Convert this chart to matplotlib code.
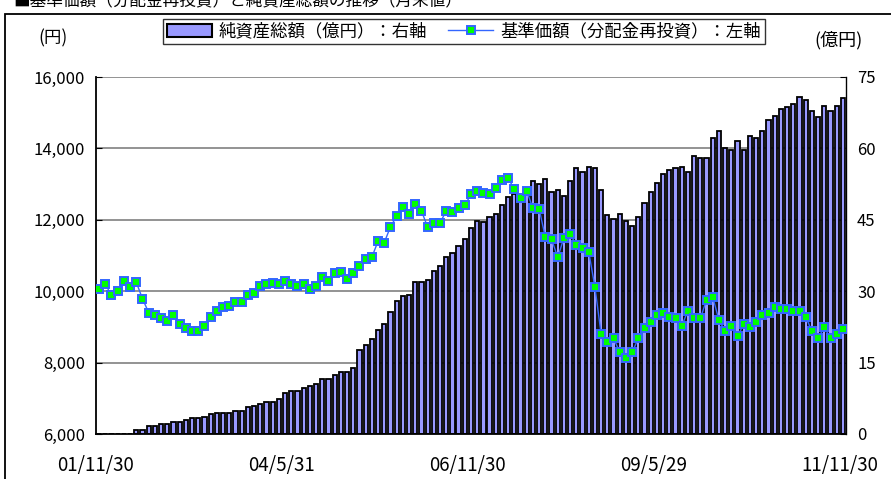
import matplotlib
matplotlib.use('Agg')

import numpy as np
import matplotlib.pyplot as plt
from matplotlib.patches import Rectangle
from matplotlib.lines import Line2D

plt.rcParams['font.family'] = ['Noto Sans CJK JP', 'DejaVu Sans']

# 月次データ 2001/11 〜 2011/11 (121 ヶ月)
kijun = [10050, 10200, 9880, 10000, 10290, 10130, 10250, 9790, 9400, 9330,
         9240, 9170, 9330, 9070, 8980, 8880, 8880, 9030, 9280, 9450,
         9550, 9580, 9690, 9690, 9880, 9940, 10140, 10200, 10240, 10190,
         10290, 10190, 10140, 10200, 10050, 10140, 10400, 10290, 10520, 10545,
         10340, 10500, 10700, 10900, 10950, 11400, 11360, 11800, 12100, 12360,
         12160, 12430, 12250, 11800, 11920, 11920, 12240, 12210, 12320, 12410,
         12710, 12800, 12760, 12710, 12900, 13110, 13160, 12860, 12620, 12800,
         12320, 12300, 11510, 11450, 10950, 11500, 11600, 11290, 11200, 11100,
         10110, 8790, 8580, 8680, 8290, 8120, 8290, 8680, 8980, 9150,
         9330, 9380, 9290, 9240, 9030, 9450, 9240, 9240, 9750, 9840,
         9190, 8880, 9030, 8740, 9080, 8990, 9130, 9330, 9380, 9550,
         9500, 9500, 9450, 9450, 9280, 8880, 8680, 8990, 8680, 8800,
         8930]

junshisan = [0, 0, 0, 0, 0, 0, 0.8, 0.8, 1.75, 1.75,
             2.0, 2.0, 2.5, 2.5, 2.9, 3.3, 3.3, 3.6, 4.1, 4.5,
             4.5, 4.5, 4.8, 4.8, 5.6, 5.9, 6.3, 6.7, 6.7, 7.4,
             8.7, 9.0, 9.0, 9.7, 10.0, 10.5, 11.5, 11.5, 12.4, 13.1,
             13.1, 13.9, 17.6, 18.8, 19.9, 21.8, 23.2, 25.6, 27.9, 29.0,
             29.3, 32.0, 32.0, 32.3, 34.3, 35.3, 37.2, 38.1, 39.5, 40.9,
             43.3, 44.8, 44.5, 45.6, 46.3, 48.2, 49.7, 50.5, 50.2, 51.7,
             53.1, 52.6, 53.6, 50.8, 51.2, 50.0, 53.1, 55.8, 55.0, 56.1,
             55.8, 51.2, 46.0, 45.2, 46.3, 44.8, 43.7, 45.6, 48.6, 50.9,
             52.8, 54.6, 55.4, 55.8, 56.1, 55.0, 58.4, 58.0, 58.0, 62.2,
             63.7, 60.0, 59.6, 61.5, 59.6, 62.6, 62.2, 63.7, 65.9, 66.8,
             68.3, 68.6, 69.4, 70.8, 70.1, 67.8, 66.6, 68.9, 67.9, 68.9,
             70.5]

tick_pos = [0, 30, 60, 90, 120]
tick_labels = ['01/11/30', '04/5/31', '06/11/30', '09/5/29', '11/11/30']

x = np.arange(len(kijun))

fig = plt.figure(figsize=(8.91, 4.79), dpi=100)

# 外枠（右と下ははみ出し）
fig.patches.append(Rectangle((5 / 891, -0.2), 1.2, 1.2 - 14 / 479,
                             transform=fig.transFigure, fill=False,
                             edgecolor='black', linewidth=1.3))
# 上端で切れているタイトル
fig.text(0.015, 1 - 6 / 479, '■基準価額（分配金再投資）と純資産総額の推移（月末値）',
         fontsize=12, va='baseline', ha='left', color='black')

ax_left = fig.add_axes([96 / 891, 1 - 434 / 479, 750 / 891, 357 / 479])
ax_right = ax_left.twinx()

# 左軸を前面に
ax_left.set_zorder(ax_right.get_zorder() + 1)
ax_left.patch.set_visible(False)

ax_right.bar(x, junshisan, width=0.68, color='#9999ff', edgecolor='black',
             linewidth=1.3, zorder=2)
ax_right.set_ylim(0, 75)
ax_right.set_yticks([0, 15, 30, 45, 60, 75])

ax_left.plot(x, kijun, color='#3366ff', linewidth=1.0, marker='s',
             markersize=6.3, markerfacecolor='#00ff00',
             markeredgecolor='#3366ff', markeredgewidth=1.4, zorder=3)
ax_left.set_ylim(6000, 16000)
ax_left.set_yticks(range(6000, 16001, 2000))
ax_left.set_yticklabels([f'{v:,}' for v in range(6000, 16001, 2000)])
ax_left.set_xlim(-0.5, len(kijun) - 0.5)
ax_left.set_xticks([p - 0.5 for p in tick_pos])
ax_left.set_xticklabels(tick_labels)

# 横グリッド（右軸側に描画してバーの背面に）
for v in range(8000, 16001, 2000):
    ax_right.axhline((v - 6000) / 10000 * 75, color='#808080', linewidth=1.2, zorder=1)

for ax in (ax_left, ax_right):
    ax.spines['top'].set_visible(False)
ax_left.spines['left'].set_linewidth(1.3)
ax_left.spines['bottom'].set_linewidth(1.3)
ax_right.spines['right'].set_color('#555555')
ax_right.spines['right'].set_linewidth(1.0)
ax_right.spines['left'].set_visible(False)
ax_right.spines['bottom'].set_visible(False)

ax_left.tick_params(axis='y', direction='in', length=4, labelsize=12, pad=8)
ax_left.tick_params(axis='x', length=0, labelsize=13.5, pad=15)
ax_right.tick_params(axis='y', direction='in', length=4, labelsize=12, pad=8)

fig.text(38 / 891, 1 - 38 / 479, '(円)', fontsize=12.5, va='center', ha='left')
fig.text(814 / 891, 1 - 40 / 479, '(億円)', fontsize=13, va='center', ha='left')

handles = [Rectangle((0, 0), 1, 1, facecolor='#9999ff', edgecolor='black', linewidth=1.5),
           Line2D([], [], color='#3366ff', linewidth=1.0, marker='s', markersize=6.3,
                  markerfacecolor='#00ff00', markeredgecolor='#3366ff',
                  markeredgewidth=1.4)]
leg = fig.legend(handles, ['純資産総額（億円）：右軸', '基準価額（分配金再投資）：左軸'],
                 loc='center', bbox_to_anchor=(464 / 891, 1 - 31.5 / 479), ncol=2,
                 fontsize=12.5, frameon=True, fancybox=False, edgecolor='black',
                 borderpad=0.2, handlelength=2.6, handletextpad=0.4,
                 columnspacing=1.2)
leg.get_frame().set_linewidth(1.0)

fig.savefig('out.png', dpi=100)
